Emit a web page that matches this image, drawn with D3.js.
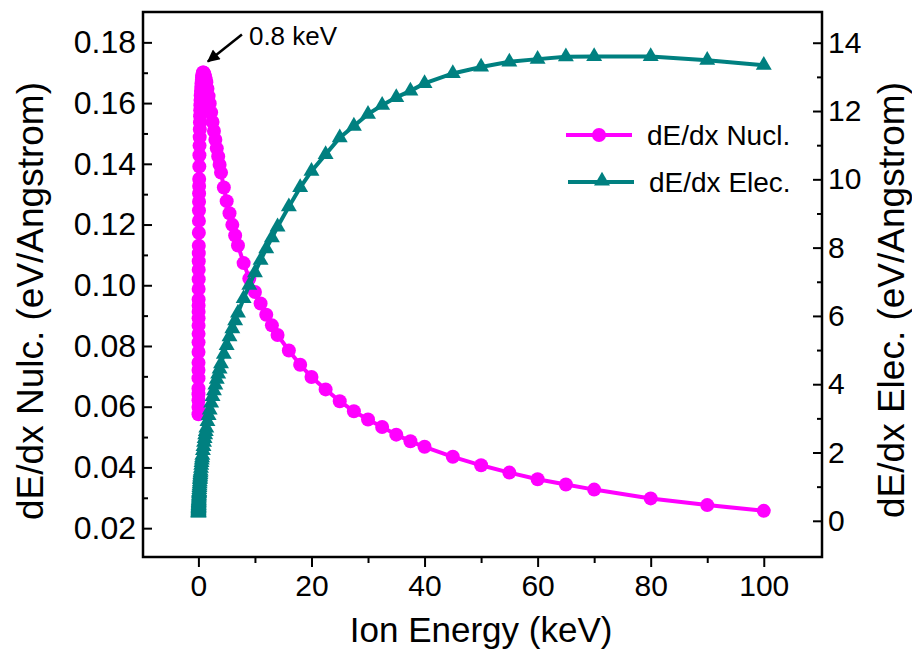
<!DOCTYPE html>
<html>
<head>
<meta charset="utf-8">
<script src="https://cdn.jsdelivr.net/npm/d3@7"></script>
<style>
  body { margin: 0; background: #fff; }
  svg { display: block; font-family: "Liberation Sans", Arial, sans-serif; }
</style>
</head>
<body>
<svg id="chart" width="912" height="650"></svg>
<script>
// SRIM energies (keV)
const energy = [
  0.01, 0.011, 0.012, 0.013, 0.014, 0.016, 0.018, 0.02,
  0.0225, 0.025, 0.0275, 0.03, 0.0325, 0.035, 0.0375, 0.04,
  0.045, 0.05, 0.055, 0.06, 0.065, 0.07, 0.08, 0.09, 0.1,
  0.11, 0.12, 0.13, 0.14, 0.16, 0.18, 0.2,
  0.225, 0.25, 0.275, 0.3, 0.325, 0.35, 0.375, 0.4,
  0.45, 0.5, 0.55, 0.6, 0.65, 0.7, 0.8, 0.9, 1.0,
  1.1, 1.2, 1.3, 1.4, 1.6, 1.8, 2.0,
  2.25, 2.5, 2.75, 3.0, 3.25, 3.5, 3.75, 4.0,
  4.5, 5, 5.5, 6, 6.5, 7, 8, 9, 10,
  11, 12, 13, 14, 16, 18, 20,
  22.5, 25, 27.5, 30, 32.5, 35, 37.5, 40,
  45, 50, 55, 60, 65, 70, 80, 90, 100
];

// dE/dx nuclear (eV/Angstrom)
const nuclear = [
  0.0575, 0.0599, 0.0621, 0.0641, 0.0660, 0.0694, 0.0721, 0.0745,
  0.0780, 0.0812, 0.0840, 0.0867, 0.0891, 0.0913, 0.0933, 0.0953,
  0.0988, 0.1020, 0.1051, 0.1079, 0.1106, 0.1130, 0.1173, 0.1212, 0.1246,
  0.1275, 0.1302, 0.1327, 0.1350, 0.1391, 0.1428, 0.1460,
  0.1488, 0.1513, 0.1536, 0.1557, 0.1576, 0.1593, 0.1610, 0.1625,
  0.1640, 0.1653, 0.1665, 0.1676, 0.1685, 0.1692, 0.1701, 0.1701, 0.1698,
  0.1693, 0.1686, 0.1678, 0.1669, 0.1647, 0.1623, 0.1599,
  0.1569, 0.1538, 0.1508, 0.1479, 0.1451, 0.1424, 0.1397, 0.1371,
  0.1322, 0.1277, 0.1237, 0.1199, 0.1164, 0.1131, 0.1073, 0.1022, 0.0978,
  0.0940, 0.0903, 0.0868, 0.0836, 0.0785, 0.0738, 0.0698,
  0.0657, 0.0618, 0.0585, 0.0558, 0.0533, 0.0508, 0.0486, 0.0468,
  0.0435, 0.0407, 0.0383, 0.0361, 0.0344, 0.0327, 0.0298, 0.0276, 0.0257
];

// dE/dx electronic (eV/Angstrom)
const electronic = [
  0.23, 0.24, 0.25, 0.26, 0.27, 0.29, 0.31, 0.33,
  0.35, 0.36, 0.38, 0.40, 0.41, 0.43, 0.45, 0.46,
  0.49, 0.51, 0.54, 0.56, 0.59, 0.61, 0.65, 0.69, 0.73,
  0.76, 0.80, 0.83, 0.86, 0.92, 0.98, 1.03,
  1.09, 1.15, 1.21, 1.26, 1.31, 1.36, 1.41, 1.46,
  1.54, 1.63, 1.71, 1.78, 1.85, 1.92, 2.06, 2.18, 2.30,
  2.41, 2.52, 2.62, 2.72, 2.91, 3.09, 3.25,
  3.45, 3.64, 3.81, 3.98, 4.15, 4.30, 4.45, 4.60,
  4.88, 5.14, 5.39, 5.63, 5.86, 6.09, 6.51, 6.90, 7.27,
  7.63, 7.97, 8.29, 8.61, 9.20, 9.76, 10.24,
  10.73, 11.22, 11.56, 11.91, 12.17, 12.40, 12.59, 12.81,
  13.10, 13.29, 13.44, 13.52, 13.59, 13.60, 13.60, 13.49, 13.34
];

const xTicks = [0, 20, 40, 60, 80, 100];
const xMinor = [10, 30, 50, 70, 90];
const leftTicks = [0.02, 0.04, 0.06, 0.08, 0.10, 0.12, 0.14, 0.16, 0.18];
const leftMinor = [0.03, 0.05, 0.07, 0.09, 0.11, 0.13, 0.15, 0.17];
const rightTicks = [0, 2, 4, 6, 8, 10, 12, 14];
const rightMinor = [1, 3, 5, 7, 9, 11, 13];

const seriesNames = ["dE/dx Nucl.", "dE/dx Elec."];
const peakLabel = "0.8 keV";
const peakEnergy = 0.8;

const pink = "#ff00ff";
const teal = "#008080";

const margin = { top: 12, right: 90, bottom: 93, left: 143 };
const width = 912 - margin.left - margin.right;
const height = 650 - margin.top - margin.bottom;

const svg = d3.select("#chart");
const g = svg.append("g").attr("transform", `translate(${margin.left},${margin.top})`);

const x = d3.scaleLinear().domain([-9.8, 110.3]).range([0, width]);
const yL = d3.scaleLinear().domain([0.0105, 0.19]).range([height, 0]);
const yR = d3.scaleLinear().domain([-1.06, 14.9]).range([height, 0]);

const nuc = energy.map((e, i) => ({ e, v: nuclear[i] }));
const ele = energy.map((e, i) => ({ e, v: electronic[i] }));

// axes
function styleAxis(sel, fs) {
  sel.select(".domain").remove();
  sel.selectAll("line").attr("stroke", "#000").attr("stroke-width", 2);
  sel.selectAll("text").attr("font-size", fs).attr("fill", "#000");
}

g.append("g").attr("transform", `translate(0,${height})`)
  .call(d3.axisBottom(x).tickValues(xMinor).tickSize(6).tickFormat(""))
  .call(s => styleAxis(s, 30));
g.append("g").attr("transform", `translate(0,${height})`)
  .call(d3.axisBottom(x).tickValues(xTicks).tickSize(10).tickPadding(8).tickFormat(d3.format("d")))
  .call(s => styleAxis(s, 30));

g.append("g")
  .call(d3.axisLeft(yL).tickValues(leftMinor).tickSize(-5).tickFormat(""))
  .call(s => styleAxis(s, 32));
g.append("g")
  .call(d3.axisLeft(yL).tickValues(leftTicks).tickSize(-9).tickPadding(7).tickFormat(d3.format(".2f")))
  .call(s => styleAxis(s, 32));

g.append("g").attr("transform", `translate(${width},0)`)
  .call(d3.axisRight(yR).tickValues(rightMinor).tickSize(-5).tickFormat(""))
  .call(s => styleAxis(s, 30));
g.append("g").attr("transform", `translate(${width},0)`)
  .call(d3.axisRight(yR).tickValues(rightTicks).tickSize(-9).tickPadding(6).tickFormat(d3.format("d")))
  .call(s => styleAxis(s, 30));

// frame
g.append("rect")
  .attr("width", width).attr("height", height)
  .attr("fill", "none").attr("stroke", "#000").attr("stroke-width", 2.5);

// axis titles
svg.append("text")
  .attr("x", margin.left + x(50)).attr("y", 642)
  .attr("text-anchor", "middle").attr("font-size", 35)
  .text("Ion Energy (keV)");
svg.append("text")
  .attr("transform", "translate(43,301) rotate(-90)")
  .attr("text-anchor", "middle").attr("font-size", 37)
  .text("dE/dx Nulc. (eV/Angstrom)");
svg.append("text")
  .attr("transform", "translate(904,300) rotate(-90)")
  .attr("text-anchor", "middle").attr("font-size", 37)
  .text("dE/dx Elec. (eV/Angstrom)");

// nuclear series
const lineN = d3.line().x(d => x(d.e)).y(d => yL(d.v));
g.append("path").datum(nuc)
  .attr("d", lineN).attr("fill", "none").attr("stroke", pink).attr("stroke-width", 4);
g.selectAll(".nuc").data(nuc).join("circle")
  .attr("class", "nuc")
  .attr("cx", d => x(d.e)).attr("cy", d => yL(d.v)).attr("r", 7)
  .attr("fill", pink);

// electronic series
const lineE = d3.line().x(d => x(d.e)).y(d => yR(d.v));
const tri = d3.symbol().type(d3.symbolTriangle).size(110);
g.append("path").datum(ele)
  .attr("d", lineE).attr("fill", "none").attr("stroke", teal).attr("stroke-width", 4);
g.selectAll(".ele").data(ele).join("path")
  .attr("class", "ele")
  .attr("transform", d => `translate(${x(d.e)},${yR(d.v)})`)
  .attr("d", tri).attr("fill", teal);

// annotation
svg.append("defs").append("marker")
  .attr("id", "arrow").attr("viewBox", "0 0 10 10")
  .attr("refX", 9).attr("refY", 5)
  .attr("markerWidth", 6).attr("markerHeight", 5)
  .attr("orient", "auto")
  .append("path").attr("d", "M0,0 L10,5 L0,10 z").attr("fill", "#000");

const px = x(peakEnergy) + 5, py = yL(0.1701) - 11;
g.append("line")
  .attr("x1", px + 34).attr("y1", py - 27)
  .attr("x2", px).attr("y2", py)
  .attr("stroke", "#000").attr("stroke-width", 2.5)
  .attr("marker-end", "url(#arrow)");
g.append("text")
  .attr("x", px + 41).attr("y", py - 16)
  .attr("font-size", 26)
  .text(peakLabel);

// legend
const legend = g.append("g").attr("transform", "translate(423,123)");
legend.append("line").attr("x1", 0).attr("x2", 66).attr("y1", 0).attr("y2", 0)
  .attr("stroke", pink).attr("stroke-width", 4);
legend.append("circle").attr("cx", 33).attr("cy", 0).attr("r", 7).attr("fill", pink);
legend.append("text").attr("x", 81).attr("y", 0).attr("dy", "0.35em")
  .attr("font-size", 28).text(seriesNames[0]);

legend.append("line").attr("x1", 2).attr("x2", 68).attr("y1", 47).attr("y2", 47)
  .attr("stroke", teal).attr("stroke-width", 4);
legend.append("path").attr("transform", "translate(36,46)").attr("d", tri).attr("fill", teal);
legend.append("text").attr("x", 83).attr("y", 47).attr("dy", "0.35em")
  .attr("font-size", 28).text(seriesNames[1]);
</script>
</body>
</html>
